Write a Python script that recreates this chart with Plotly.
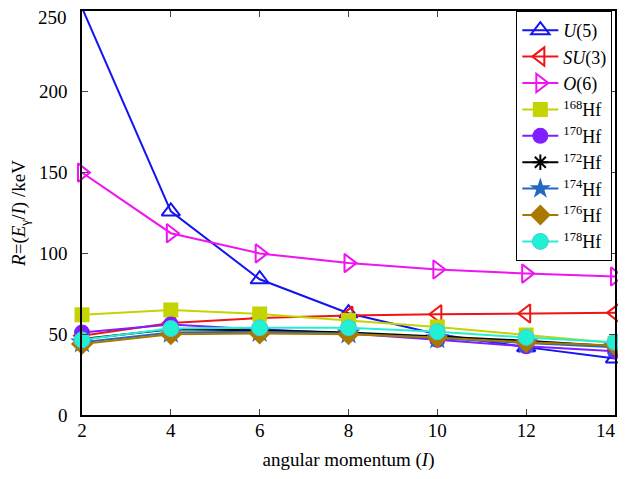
import plotly.graph_objects as go

I_vals = [2, 4, 6, 8, 10, 12, 14]
y_ticks = [0, 50, 100, 150, 200, 250]

u5 = [252, 126, 84, 63, 50, 42, 35]
su3 = [49, 57, 60, 61.5, 62.3, 62.8, 63.2]
o6 = [150, 112.5, 100, 94, 90, 87.5, 85.7]
hf168 = [62, 65, 62.5, 58.5, 54.5, 49.5, 44.5]
hf170 = [51, 56, 53, 50.5, 46.5, 42.5, 39.5]
hf172 = [47, 53, 52.5, 51, 48.5, 46, 42.5]
hf174 = [45, 51, 51.5, 50.5, 47.5, 44.5, 42]
hf176 = [44, 50, 50.5, 50, 48, 45, 43]
hf178 = [46.5, 53.5, 54, 54, 51.5, 48, 45]

names = ["<i>U</i>(5)", "<i>SU</i>(3)", "<i>O</i>(6)",
         "<sup>168</sup>Hf", "<sup>170</sup>Hf", "<sup>172</sup>Hf",
         "<sup>174</sup>Hf", "<sup>176</sup>Hf", "<sup>178</sup>Hf"]
series = [u5, su3, o6, hf168, hf170, hf172, hf174, hf176, hf178]

styles = [
    dict(color="#1414F0", symbol="triangle-up-open", size=16, lw=2, mlc="#1414F0", mlw=2),
    dict(color="#F01414", symbol="triangle-left-open", size=16, lw=2, mlc="#F01414", mlw=2),
    dict(color="#F014F0", symbol="triangle-right-open", size=16, lw=2, mlc="#F014F0", mlw=2),
    dict(color="#C4D400", symbol="square", size=15, lw=2, mlc="#C4D400", mlw=0),
    dict(color="#7F1FFF", symbol="circle", size=16, lw=2, mlc="#7F1FFF", mlw=0),
    dict(color="#000000", symbol="asterisk-open", size=13, lw=2, mlc="#000000", mlw=2),
    dict(color="#2468C0", symbol="star", size=18, lw=2, mlc="#2468C0", mlw=0),
    dict(color="#A87800", symbol="diamond", size=17, lw=2, mlc="#A87800", mlw=0),
    dict(color="#22F0D2", symbol="circle", size=16, lw=2, mlc="#48C8E0", mlw=1),
]

fig = go.Figure()
for name, ys, st in zip(names, series, styles):
    fig.add_trace(go.Scatter(
        x=I_vals, y=ys, name=name, mode="lines+markers",
        line=dict(color=st["color"], width=st["lw"]),
        marker=dict(symbol=st["symbol"], size=st["size"], color=st["color"],
                    line=dict(color=st["mlc"], width=st["mlw"])),
        cliponaxis=False,
    ))

font_family = "Liberation Serif"
tfont = dict(family=font_family, size=19, color="black")

# edge tick labels drawn as annotations so they stay inside the visible page
y_ticktext = [str(v) for v in y_ticks[:-1]] + [""]
fig.add_annotation(x=0, xref="paper", y=y_ticks[-1], yref="y", text=str(y_ticks[-1]),
                   showarrow=False, xanchor="right", yanchor="middle",
                   xshift=-13, yshift=-6, font=tfont)
x_ticktext = [str(v) for v in I_vals[:-1]] + [""]
fig.add_annotation(x=I_vals[-1], xref="x", y=0, yref="paper", text=str(I_vals[-1]),
                   showarrow=False, xanchor="right", yanchor="middle",
                   xshift=3, yshift=-15, font=tfont)

# the page body adds an 8px offset; the figure is sized to fill the rest of the window
fig.update_layout(
    width=618, height=463,
    margin=dict(l=74, r=11, t=3, b=56),
    paper_bgcolor="white", plot_bgcolor="white",
    font=dict(family=font_family, size=19, color="black"),
    legend=dict(x=0.995, y=1.0, xanchor="right", yanchor="top",
                bgcolor="white", bordercolor="black", borderwidth=1,
                font=dict(family=font_family, size=18, color="black"), itemwidth=36,
                tracegroupgap=0),
    xaxis=dict(range=[2, 14], tickvals=I_vals, ticktext=x_ticktext, ticks="inside", ticklen=6,
               showline=True, linecolor="black", linewidth=1.5, mirror="ticks",
               showgrid=False, zeroline=False, automargin=False, ticklabelstandoff=-3,
               title=dict(text="angular momentum (<i>I</i>)", standoff=14, font=tfont),
               tickfont=tfont),
    yaxis=dict(range=[0, 250], tickvals=y_ticks, ticktext=y_ticktext, ticks="inside", ticklen=6,
               showline=True, linecolor="black", linewidth=1.5, mirror="ticks",
               showgrid=False, zeroline=False, ticklabelstandoff=9, automargin=False,
               title=dict(text="<i>R</i>=(<i>E</i><sub>γ</sub>/<i>I</i>) /keV", standoff=10, font=tfont),
               tickfont=tfont),
    showlegend=True,
)

fig.write_html("out.html")
